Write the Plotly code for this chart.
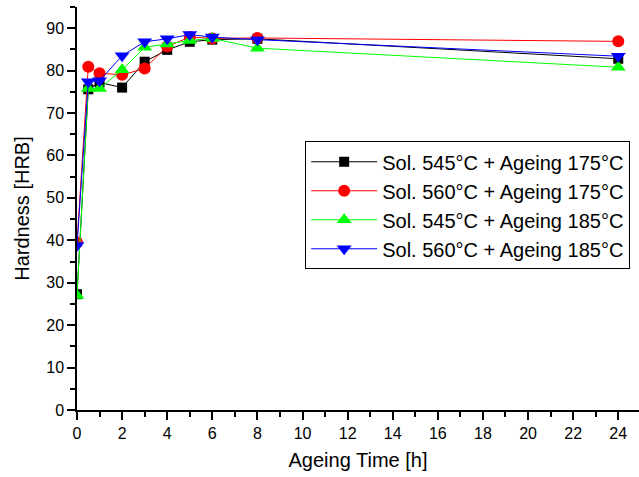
import plotly.graph_objects as go

time_h = [0, 0.5, 1, 2, 3, 4, 5, 6, 8, 24]
s545_a175 = [27.3, 75.6, 77.2, 76.0, 82.1, 84.9, 86.8, 87.3, 87.5, 82.8]
s560_a175 = [39.5, 80.9, 79.4, 79.0, 80.5, 85.7, 87.9, 87.6, 87.7, 86.9]
s545_a185 = [27.0, 75.8, 75.8, 80.2, 85.5, 86.3, 87.1, 87.6, 85.3, 80.8]
s560_a185 = [38.8, 77.4, 77.6, 83.5, 86.8, 87.5, 88.5, 87.9, 87.3, 83.4]

names = ["Sol. 545°C + Ageing 175°C", "Sol. 560°C + Ageing 175°C",
         "Sol. 545°C + Ageing 185°C", "Sol. 560°C + Ageing 185°C"]
series = [s545_a175, s560_a175, s545_a185, s560_a185]
colors = ["#000000", "#ff0000", "#00ff00", "#0000ff"]
symbols = ["square", "circle", "triangle-up", "triangle-down"]
sizes = [10, 12, 13, 13]

fig = go.Figure()
for n, s, c, sym, sz in zip(names, series, colors, symbols, sizes):
    fig.add_trace(go.Scatter(
        x=time_h, y=s, name=n, mode="lines+markers",
        line=dict(color=c, width=1),
        marker=dict(symbol=sym, size=sz, color=c, line=dict(width=0)),
    ))

font = "Liberation Sans, Arial, sans-serif"
fig.update_layout(
    width=639, height=477,
    margin=dict(l=77, r=0, t=7, b=67),
    paper_bgcolor="white", plot_bgcolor="white",
    font=dict(family=font, color="black", size=16),
    showlegend=True,
    legend=dict(x=0.406, y=0.508, xanchor="left", yanchor="middle",
                bordercolor="black", borderwidth=1, bgcolor="white",
                font=dict(size=20, family=font), tracegroupgap=0,
                itemwidth=66),
    xaxis=dict(range=[0, 24.92], dtick=2, tick0=0, showgrid=False, zeroline=False,
               automargin=False,
               showline=True, linecolor="black", linewidth=1.5,
               ticks="outside", ticklen=8, tickwidth=1.5, tickcolor="black",
               minor=dict(ticks="outside", ticklen=5, dtick=1, tick0=0, tickcolor="black", tickwidth=1.5),
               title=dict(text="Ageing Time [h]", font=dict(size=20), standoff=12),
               tickfont=dict(size=16)),
    yaxis=dict(range=[0, 95], dtick=10, tick0=0, showgrid=False, zeroline=False,
               automargin=False,
               showline=True, linecolor="black", linewidth=1.5,
               ticks="outside", ticklen=8, tickwidth=1.5, tickcolor="black",
               minor=dict(ticks="outside", ticklen=5, dtick=5, tick0=0, tickcolor="black", tickwidth=1.5),
               title=dict(text="Hardness [HRB]", font=dict(size=20), standoff=11),
               tickfont=dict(size=16)),
)

fig.write_html("out.html", config={"displayModeBar": False},
               post_script="document.body.style.margin='0';document.body.style.padding='0';")
